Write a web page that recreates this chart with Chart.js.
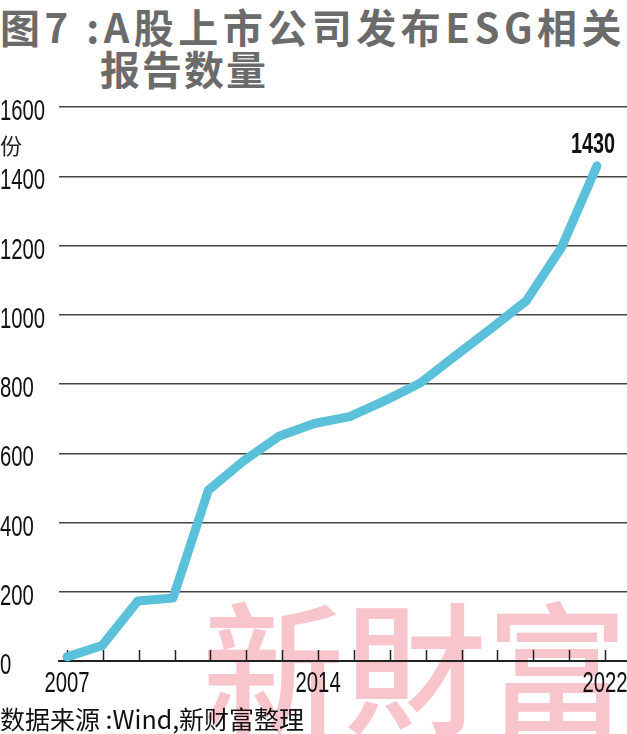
<!DOCTYPE html>
<html>
<head>
<meta charset="utf-8">
<script src="https://cdn.jsdelivr.net/npm/chart.js@4"></script>
<style>
  body { margin: 0; background: #fff; }
  #wrap { position: relative; width: 627px; height: 734px; overflow: hidden; }
  #wrap div { position: absolute; white-space: nowrap; }
  .title { font-family: "Noto Sans CJK SC"; font-weight: 700; font-size: 40px; line-height: 40px; color: #6b6b6b; letter-spacing: 2px; }
  #mark { left: 202px; top: 590px; font-family: "Noto Sans CJK TC"; font-weight: 500; font-size: 142px; line-height: 142px; color: #f7c5cb; z-index: 0; }
  #myChart { position: absolute; left: 0; top: 0; z-index: 1; }
  #unit { left: 0; top: 133px; font-family: "Noto Sans CJK SC"; font-size: 22px; line-height: 22px; color: #222; z-index: 2; }
  #source { left: 0; top: 706px; font-family: "Noto Sans CJK SC"; font-size: 25px; line-height: 25px; color: #111; z-index: 2; }
</style>
</head>
<body>
<div id="wrap">
  <div id="mark">新財富</div>
  <div class="title" style="left:0; top:6px; letter-spacing:4.5px;">图7 :A股上市公司发布ESG相关</div>
  <div class="title" style="left:100px; top:48px;">报告数量</div>
  <div id="unit">份</div>
  <div id="source">数据来源 :Wind,新财富整理</div>
  <canvas id="myChart" width="627" height="734"></canvas>
</div>
<script>
var years = [2007, 2008, 2009, 2010, 2011, 2012, 2013, 2014, 2015, 2016, 2017, 2018, 2019, 2020, 2021, 2022];
var reports = [12, 45, 173, 182, 493, 578, 649, 686, 706, 752, 803, 882, 960, 1040, 1195, 1430];
var yTicks = [0, 200, 400, 600, 800, 1000, 1200, 1400, 1600];
var yearLabels = [2007, 2014, 2022];

var points = years.map(function (y, i) { return {x: y, y: reports[i]}; });

// narrow digits: the page has no condensed face, so squeeze a normal one
function narrowText(ctx, txt, x, y, align, font, sx) {
  ctx.save();
  ctx.translate(x, y);
  ctx.scale(sx, 1);
  ctx.font = font;
  ctx.textAlign = align;
  ctx.textBaseline = 'alphabetic';
  ctx.fillStyle = '#111';
  ctx.fillText(txt, 0, 0);
  ctx.restore();
}

// year tick marks (pointing up) and axis labels
var axisMarks = {
  id: 'axisMarks',
  beforeDatasetsDraw: function (chart) {
    var ctx = chart.ctx;
    var sc = chart.scales.xt;
    var bottom = chart.chartArea.bottom;
    ctx.save();
    ctx.strokeStyle = '#222';
    ctx.lineWidth = 1.5;
    years.forEach(function (yr) {
      var px = Math.round(sc.getPixelForValue(yr)) + 0.5;
      ctx.beginPath();
      ctx.moveTo(px, bottom - 11);
      ctx.lineTo(px, bottom);
      ctx.stroke();
    });
    ctx.restore();
  },
  afterDraw: function (chart) {
    var ctx = chart.ctx;
    var f = '29px "Liberation Sans", Arial, sans-serif';
    var ys = chart.scales.y;
    yTicks.forEach(function (v) {
      narrowText(ctx, String(v), 0, ys.getPixelForValue(v) + 13, 'left', f, 0.7);
    });
    var xs = chart.scales.xt;
    var bottom = chart.chartArea.bottom;
    yearLabels.forEach(function (yr) {
      narrowText(ctx, String(yr), xs.getPixelForValue(yr), bottom + 31, 'center', f, 0.7);
    });
    // value over the last point
    var meta = chart.getDatasetMeta(0);
    var pt = meta.data[meta.data.length - 1];
    narrowText(ctx, String(reports[reports.length - 1]), pt.x - 4, pt.y - 13, 'center',
      'bold 30px "Liberation Sans", Arial, sans-serif', 0.66);
  }
};

new Chart('myChart', {
  type: 'line',
  data: {
    datasets: [{
      data: points,
      borderColor: '#5bc1da',
      borderWidth: 9,
      borderCapStyle: 'round',
      borderJoinStyle: 'round',
      pointRadius: 0,
      tension: 0,
      clip: false
    }]
  },
  options: {
    responsive: false,
    animation: false,
    layout: {padding: {top: 107, right: 0, bottom: 0, left: 0}},
    plugins: {legend: {display: false}, tooltip: {enabled: false}},
    scales: {
      x: {
        type: 'linear',
        display: false,
        min: 2007 - 8 / 35.33,
        max: 2007 + 560 / 35.33
      },
      xt: {
        type: 'linear',
        position: 'bottom',
        min: 2007 - 8 / 35.87,
        max: 2007 + 560 / 35.87,
        afterFit: function (scale) { scale.height = 73; },
        ticks: {display: false},
        grid: {display: false, drawTicks: false},
        border: {display: true, color: '#222', width: 2}
      },
      y: {
        min: 0,
        max: 1600,
        afterBuildTicks: function (scale) {
          scale.ticks = yTicks.map(function (v) { return {value: v}; });
        },
        afterFit: function (scale) { scale.width = 59; },
        ticks: {display: false},
        grid: {color: '#444', lineWidth: 1.5, drawTicks: false},
        border: {display: false}
      }
    }
  },
  plugins: [axisMarks]
});
</script>
</body>
</html>
